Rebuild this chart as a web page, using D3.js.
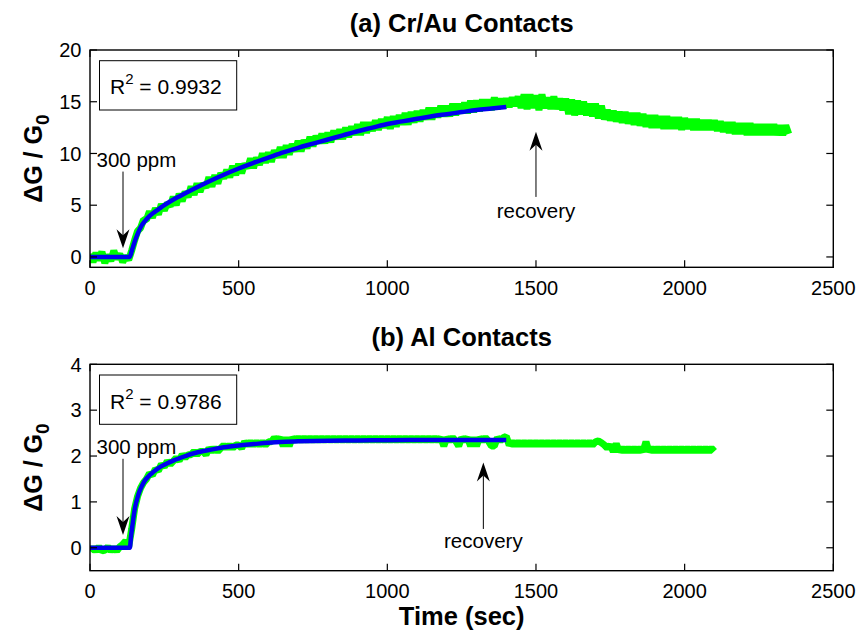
<!DOCTYPE html>
<html>
<head>
<meta charset="utf-8">
<script src="https://cdn.jsdelivr.net/npm/d3@7"></script>
<style>
  body { margin: 0; background: #fff; }
  svg { display: block; }
  text { font-family: "Liberation Sans", Arial, Helvetica, sans-serif; fill: #000; }
</style>
</head>
<body>
<svg id="chart" width="862" height="633"></svg>
<script>
// ---- tick labels ----
const xTicks = [0, 500, 1000, 1500, 2000, 2500];
const yTicksA = [0, 5, 10, 15, 20];
const yTicksB = [0, 1, 2, 3, 4];

// ---- (a) Cr/Au contacts: measured dG/G0, sampled every 10 s from t = 0 ----
const crAuStart = 0, crAuStep = 10;
const crAuData = [
  0.3,-0.5,0.4,-0.3,0.5,-0.6,0.2,-0.4,0.6,-0.2,
  0.3,-0.5,0.1,-0.3,0.6,1.6,2.5,2.8,3.6,3.6,
  4.4,3.8,4.7,4.1,5.1,4.5,5.2,4.9,5.8,5.0,
  6.1,5.4,6.3,5.8,6.8,6.0,7.1,6.3,7.1,6.7,
  7.7,6.8,7.9,7.1,8.1,7.6,8.4,7.7,8.8,7.9,
  9.0,8.1,9.0,8.6,9.5,8.6,9.6,8.9,10.0,9.1,
  10.1,9.2,10.3,9.6,10.6,9.6,10.8,9.9,10.9,10.2,
  11.2,10.2,11.3,10.5,11.6,10.7,11.7,11.0,11.9,11.0,
  12.0,11.1,12.2,11.4,12.3,11.4,12.5,11.6,12.6,11.8,
  12.8,11.8,13.0,12.0,13.0,12.2,13.2,12.3,13.3,12.5,
  13.5,12.4,13.6,12.6,13.7,12.8,13.9,12.8,14.0,13.0,
  14.1,13.1,14.2,13.3,14.4,13.3,14.4,13.5,14.6,13.6,
  14.6,13.6,14.8,13.7,14.8,13.9,14.9,13.9,15.1,14.0,
  15.1,14.1,15.2,14.2,15.2,14.2,15.4,14.3,15.3,14.4,
  15.3,14.5,15.4,14.6,15.5,14.4,15.7,14.3,15.7,14.4,
  15.6,14.2,15.7,14.4,15.4,14.3,15.5,14.3,15.3,14.2,
  15.3,13.8,15.2,13.7,15.1,13.8,15.0,13.7,14.8,13.6,
  14.8,13.4,14.6,13.3,14.2,13.2,14.1,13.1,14.0,13.0,
  14.0,12.9,13.9,12.8,13.9,12.7,13.8,12.6,13.7,12.5,
  13.7,12.5,13.6,12.4,13.6,12.4,13.5,12.4,13.5,12.3,
  13.4,12.4,13.3,12.3,13.3,12.3,13.2,12.3,13.2,12.3,
  13.2,12.2,13.1,12.1,13.0,12.0,13.0,11.9,12.9,11.9,
  12.9,11.8,12.9,11.8,12.8,11.8,12.8,11.8,12.8,11.8,
  12.8,11.8,12.7,11.8,12.7,11.9
];

// ---- (a) fitted response ----
const crAuFitTime = [0,134,140,145,150,155,160,165,170,175,180,190,200,215,230,250,275,300,350,400,450,500,550,600,650,700,750,800,850,900,950,1000,1050,1100,1150,1200,1250,1300,1350,1400];
const crAuFitVal  = [0,0,0.55,1.0,1.45,1.85,2.2,2.55,2.85,3.1,3.3,3.65,3.95,4.3,4.6,5.0,5.45,5.85,6.6,7.3,7.95,8.55,9.1,9.6,10.1,10.55,10.95,11.35,11.75,12.15,12.5,12.85,13.1,13.35,13.6,13.8,14.0,14.2,14.35,14.5];

// ---- (b) Al contacts: measured dG/G0, sampled every 10 s from t = 0 ----
const alStart = 0, alStep = 10;
const alData = [
  -0.07,0,-0.07,0.02,-0.07,-0.05,0.02,-0.07,0,-0.07,
  0.02,0.07,0.15,0.02,0.4,0.85,1.12,1.3,1.42,1.5,
  1.62,1.58,1.72,1.68,1.82,1.76,1.89,1.82,1.89,1.96,
  1.9,2.03,1.96,2.03,2.03,2.1,2.03,2.1,2.1,2.03,
  2.17,2.1,2.17,2.1,2.17,2.24,2.17,2.24,2.17,2.24,
  2.24,2.17,2.31,2.24,2.31,2.24,2.31,2.24,2.31,2.24,
  2.31,2.31,2.4,2.33,2.4,2.22,2.4,2.22,2.4,2.33,
  2.4,2.33,2.4,2.33,2.4,2.33,2.4,2.33,2.4,2.33,
  2.4,2.33,2.4,2.33,2.4,2.33,2.4,2.33,2.4,2.33,
  2.4,2.33,2.4,2.33,2.4,2.33,2.4,2.33,2.4,2.33,
  2.4,2.33,2.4,2.33,2.4,2.33,2.4,2.33,2.4,2.33,
  2.4,2.33,2.4,2.33,2.4,2.33,2.4,2.33,2.4,2.22,
  2.4,2.33,2.4,2.33,2.22,2.4,2.33,2.4,2.22,2.4,
  2.22,2.4,2.33,2.4,2.33,2.22,2.22,2.4,2.33,2.4,
  2.43,2.24,2.31,2.24,2.31,2.24,2.31,2.24,2.31,2.24,
  2.31,2.24,2.31,2.24,2.31,2.24,2.31,2.24,2.31,2.24,
  2.31,2.24,2.31,2.24,2.31,2.24,2.31,2.24,2.31,2.24,
  2.31,2.33,2.29,2.24,2.17,2.24,2.1,2.27,2.1,2.17,
  2.1,2.17,2.1,2.17,2.1,2.17,2.1,2.31,2.1,2.17,
  2.1,2.17,2.1,2.17,2.1,2.17,2.1,2.17,2.1,2.17,
  2.1,2.17,2.1,2.17,2.1,2.17,2.1,2.17,2.1,2.17,
  2.1
];

// ---- (b) fitted response ----
const alFitTime = [0,134,138,142,146,150,155,160,167,174,182,190,200,207,220,235,250,262,280,300,325,350,375,400,450,500,550,600,656,700,800,900,1000,1200,1400];
const alFitVal  = [0,0,0.25,0.45,0.65,0.82,0.98,1.1,1.24,1.34,1.44,1.51,1.58,1.62,1.69,1.76,1.81,1.85,1.9,1.95,2.01,2.06,2.1,2.13,2.19,2.23,2.26,2.29,2.31,2.32,2.335,2.34,2.345,2.35,2.35];

// ---- annotations: [text x, text y, arrow x, arrow base y, arrow tip y] in data units ----
const gasNoteA = [22, 8.73, 111, 8.25, 0.84];
const recNoteA = [1500, 3.74, 1500, 5.8, 12.1];
const gasNoteB = [22, 2.05, 111, 1.94, 0.28];
const recNoteB = [1323, 0.0, 1323, 0.41, 1.86];

const titles = ["(a) Cr/Au Contacts", "(b) Al Contacts"];
const rSquared = ["0.9932", "0.9786"];

const svg = d3.select("#chart");
const GREEN = "#00ff00", BLUE = "#0000f0";

const left = 90, right = 833.3;
const x = d3.scaleLinear().domain([0, 2500]).range([left, right]);

const panels = [
  { top: 50, bottom: 267.3, yDomain: [-1, 20], yTicks: yTicksA,
    start: crAuStart, step: crAuStep, data: crAuData,
    fitT: crAuFitTime, fitV: crAuFitVal, gas: gasNoteA, rec: recNoteA,
    title: titles[0], r2: rSquared[0] },
  { top: 364.3, bottom: 570.7, yDomain: [-0.5, 4], yTicks: yTicksB,
    start: alStart, step: alStep, data: alData,
    fitT: alFitTime, fitV: alFitVal, gas: gasNoteB, rec: recNoteB,
    title: titles[1], r2: rSquared[1] }
];

const defs = svg.append("defs");

panels.forEach((p, i) => {
  const y = d3.scaleLinear().domain(p.yDomain).range([p.bottom, p.top]);
  const g = svg.append("g");

  defs.append("clipPath").attr("id", "clip" + i)
    .append("rect").attr("x", left).attr("y", p.top)
    .attr("width", right - left).attr("height", p.bottom - p.top);

  const plot = g.append("g").attr("clip-path", `url(#clip${i})`);

  // measured signal
  const pts = p.data.map((v, k) => [p.start + k * p.step, v]);
  plot.append("path")
    .attr("d", d3.line().x(d => x(d[0])).y(d => y(d[1]))(pts))
    .attr("fill", "none").attr("stroke", GREEN)
    .attr("stroke-width", 7).attr("stroke-linejoin", "bevel").attr("stroke-linecap", "butt");

  // fitted curve
  const fit = p.fitT.map((t, k) => [t, p.fitV[k]]);
  plot.append("path")
    .attr("d", d3.line().curve(d3.curveMonotoneX).x(d => x(d[0])).y(d => y(d[1]))(fit))
    .attr("fill", "none").attr("stroke", BLUE)
    .attr("stroke-width", 4.5).attr("stroke-linejoin", "round");

  // axis box
  g.append("rect").attr("x", left).attr("y", p.top)
    .attr("width", right - left).attr("height", p.bottom - p.top)
    .attr("fill", "none").attr("stroke", "#000").attr("stroke-width", 1.4);

  // inward ticks on all four sides
  const tl = 7;
  const tickG = g.append("g").attr("stroke", "#000").attr("stroke-width", 1.2);
  xTicks.forEach(t => {
    tickG.append("line").attr("x1", x(t)).attr("x2", x(t)).attr("y1", p.bottom).attr("y2", p.bottom - tl);
    tickG.append("line").attr("x1", x(t)).attr("x2", x(t)).attr("y1", p.top).attr("y2", p.top + tl);
  });
  p.yTicks.forEach(t => {
    tickG.append("line").attr("x1", left).attr("x2", left + tl).attr("y1", y(t)).attr("y2", y(t));
    tickG.append("line").attr("x1", right).attr("x2", right - tl).attr("y1", y(t)).attr("y2", y(t));
  });

  // tick labels
  g.selectAll(".xl").data(xTicks).enter().append("text")
    .attr("x", d => x(d)).attr("y", p.bottom + 27.5)
    .attr("text-anchor", "middle").attr("font-size", 20).text(d => d);
  g.selectAll(".yl").data(p.yTicks).enter().append("text")
    .attr("x", left - 8.5).attr("y", d => y(d) + 7.2)
    .attr("text-anchor", "end").attr("font-size", 20).text(d => d);

  // title
  g.append("text").attr("x", (left + right) / 2).attr("y", p.top - 18.5)
    .attr("text-anchor", "middle").attr("font-size", 25.5).attr("font-weight", "bold")
    .text(p.title);

  // y label
  const ymid = (p.top + p.bottom) / 2;
  const yl = g.append("text")
    .attr("transform", `translate(42,${ymid}) rotate(-90)`)
    .attr("text-anchor", "middle").attr("font-size", 25).attr("font-weight", "bold");
  yl.append("tspan").text("\u0394G / G");
  yl.append("tspan").attr("dy", 7).attr("font-size", 19).text("0");

  // R^2 box
  g.append("rect").attr("x", 99.5).attr("y", p.top + 10.7)
    .attr("width", 137.2).attr("height", 49.3)
    .attr("fill", "#fff").attr("stroke", "#000").attr("stroke-width", 1);
  const rt = g.append("text").attr("x", 110).attr("y", p.top + 44.3).attr("font-size", 21);
  rt.append("tspan").text("R");
  rt.append("tspan").attr("dy", -10).attr("font-size", 15).text("2");
  rt.append("tspan").attr("dy", 10).text(" = " + p.r2);

  // annotations
  const arrow = (ax, y0, y1) => {
    const xs = x(ax), ys = y(y0), ye = y(y1);
    const dir = ye > ys ? 1 : -1;
    const hl = 19, hw = 6.5, notch = 13;
    g.append("line").attr("x1", xs).attr("x2", xs).attr("y1", ys).attr("y2", ye - dir * notch)
      .attr("stroke", "#000").attr("stroke-width", 1);
    g.append("path")
      .attr("d", `M${xs},${ye} L${xs - hw},${ye - dir * hl} L${xs},${ye - dir * notch} L${xs + hw},${ye - dir * hl} Z`)
      .attr("fill", "#000");
  };

  g.append("text").attr("x", x(p.gas[0])).attr("y", y(p.gas[1]))
    .attr("font-size", 20.5).text("300 ppm");
  arrow(p.gas[2], p.gas[3], p.gas[4]);

  g.append("text").attr("x", x(p.rec[0])).attr("y", y(p.rec[1]))
    .attr("text-anchor", "middle").attr("font-size", 20.5).text("recovery");
  arrow(p.rec[2], p.rec[3], p.rec[4]);
});

// x axis label
svg.append("text").attr("x", (left + right) / 2).attr("y", 625)
  .attr("text-anchor", "middle").attr("font-size", 25.5).attr("font-weight", "bold")
  .text("Time (sec)");
</script>
</body>
</html>
